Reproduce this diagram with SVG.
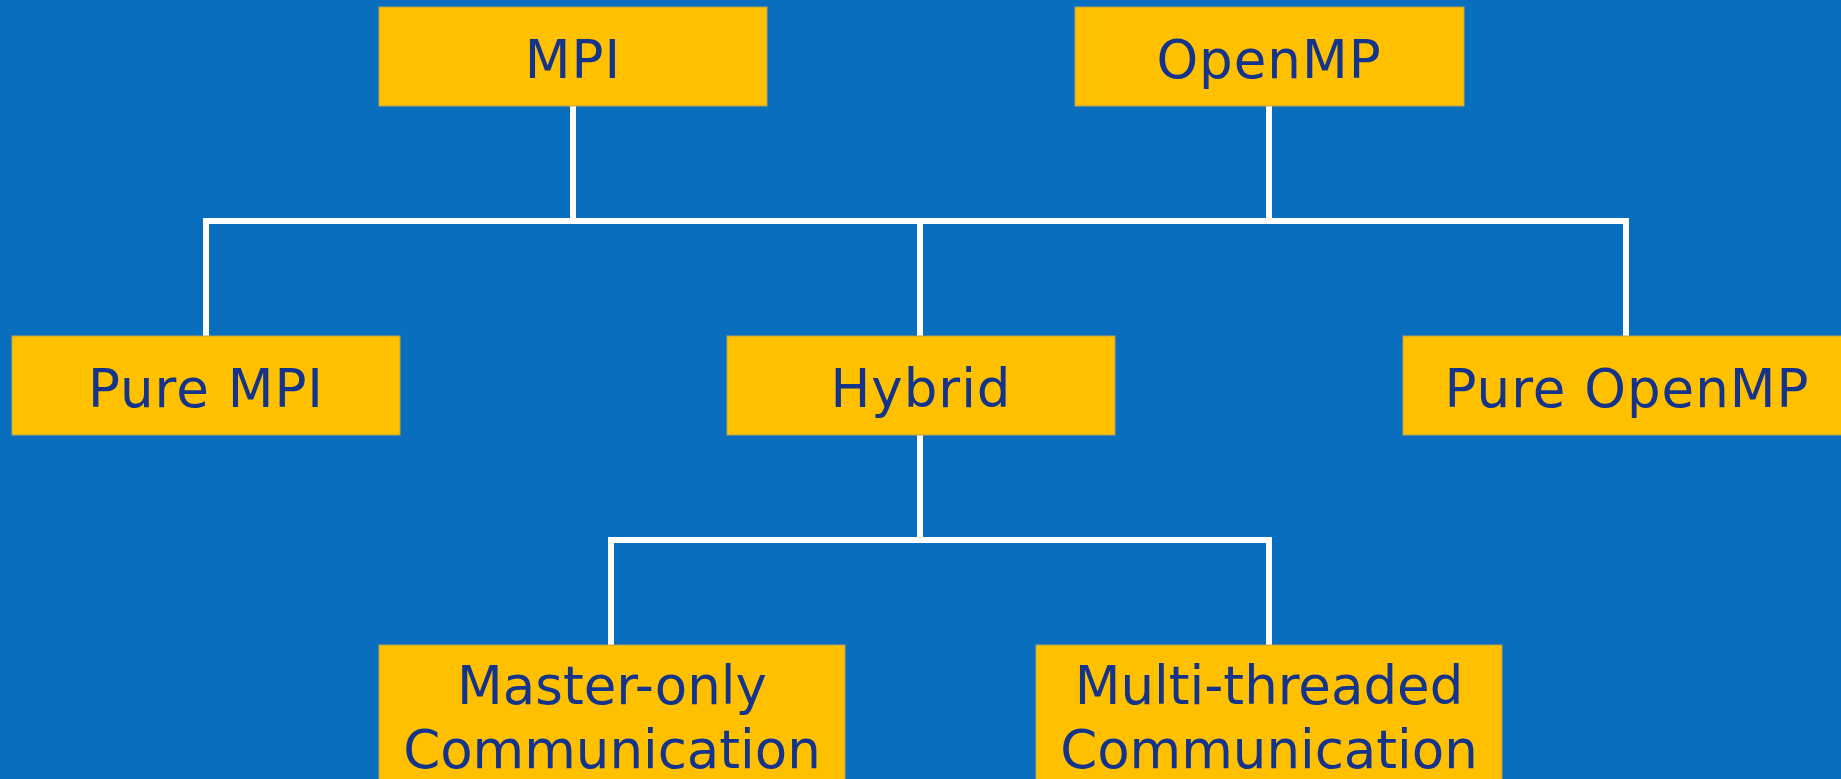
<svg xmlns="http://www.w3.org/2000/svg" width="1841" height="779" viewBox="0 0 1841 779">
  <style>
    .box { fill: #FFC000; stroke: #B8A24E; stroke-width: 1; }
    .label { font-family: "DejaVu Sans", "Liberation Sans", sans-serif; font-size: 53px; letter-spacing: 1px; fill: #14338A; text-anchor: middle; }
    .label.tight { letter-spacing: 0; }
    .wire { fill: none; stroke: #FFFFFF; stroke-width: 6; stroke-linecap: butt; stroke-linejoin: miter; }
  </style>
  <rect x="0" y="0" width="1841" height="779" fill="#0A6EBF"/>

  <!-- connectors -->
  <g id="connectors">
    <path class="wire" d="M573,106 V221"/>
    <path class="wire" d="M1269,106 V221"/>
    <path class="wire" d="M206,336 V221 H1626 V336"/>
    <path class="wire" d="M920,221 V336"/>
    <path class="wire" d="M920,435 V540"/>
    <path class="wire" d="M611,645 V540 H1269 V645"/>
  </g>

  <g id="mpi">
    <rect class="box" x="379" y="7" width="388" height="99"/>
    <text class="label" x="573" y="78">MPI</text>
  </g>
  <g id="openmp">
    <rect class="box" x="1075" y="7" width="389" height="99"/>
    <text class="label" x="1269" y="78">OpenMP</text>
  </g>
  <g id="pure-mpi">
    <rect class="box" x="12" y="336" width="388" height="99"/>
    <text class="label" x="206" y="407">Pure MPI</text>
  </g>
  <g id="hybrid">
    <rect class="box" x="727" y="336" width="388" height="99"/>
    <text class="label" x="921" y="407">Hybrid</text>
  </g>
  <g id="pure-openmp">
    <rect class="box" x="1403" y="336" width="450" height="99"/>
    <text class="label" x="1627" y="407">Pure OpenMP</text>
  </g>
  <g id="master-only">
    <rect class="box" x="379" y="645" width="466" height="150"/>
    <text class="label tight" x="612" y="704">Master-only</text>
    <text class="label tight" x="612" y="768">Communication</text>
  </g>
  <g id="multi-threaded">
    <rect class="box" x="1036" y="645" width="466" height="150"/>
    <text class="label tight" x="1269" y="704">Multi-threaded</text>
    <text class="label tight" x="1269" y="768">Communication</text>
  </g>
</svg>
